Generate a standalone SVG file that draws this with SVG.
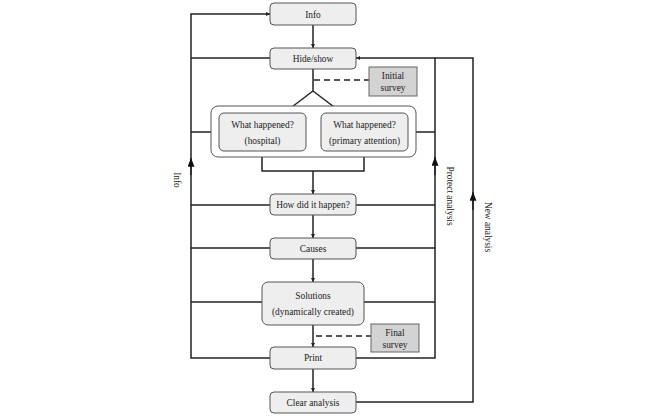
<svg xmlns="http://www.w3.org/2000/svg" width="666" height="417" viewBox="0 0 666 417">
<style>
.node{fill:#eeeeee;stroke:#555;stroke-width:1}
.survey{fill:#d3d3d3;stroke:#666;stroke-width:1}
.group{fill:#fff;stroke:#555;stroke-width:1}
text{font-family:"Liberation Serif","Times New Roman",serif;font-size:9.4px;fill:#222;text-anchor:middle}
.ln{fill:none;stroke:#222;stroke-width:1.5}
.dash{fill:none;stroke:#222;stroke-width:1.5;stroke-dasharray:6,4}
</style>
<defs>
<marker id="sm" viewBox="0 0 6 6" refX="6" refY="3" markerWidth="4" markerHeight="4" orient="auto" markerUnits="userSpaceOnUse"><path d="M0,0L6,3L0,6z" fill="#222"/></marker>
<marker id="big" viewBox="0 0 10 8" refX="10" refY="4" markerWidth="9" markerHeight="7" orient="auto" markerUnits="userSpaceOnUse"><path d="M0,0L10,4L0,8z" fill="#111"/></marker>
</defs>
<g id="connectors">
<path class="ln" d="M313,25V48" marker-end="url(#sm)"/>
<path class="ln" d="M313,69V91L284,113M313,91L342,113"/>
<path class="dash" d="M314,80H369"/>
<path class="ln" d="M262,151V171H364V151M313,171V194" marker-end="url(#sm)"/>
<path class="ln" d="M313,215V238" marker-end="url(#sm)"/>
<path class="ln" d="M313,259V282" marker-end="url(#sm)"/>
<path class="ln" d="M313,325V347" marker-end="url(#sm)"/>
<path class="dash" d="M316,336H371"/>
<path class="ln" d="M313,369V392" marker-end="url(#sm)"/>
<path class="ln" d="M270,358H191V14H270" marker-end="url(#sm)"/>
<path class="ln" d="M191,58H270M191,132H211M191,205H270M191,248H270M191,302H262"/>
<path class="ln" d="M191,175V158" marker-end="url(#big)"/>
<path class="ln" d="M356,358H435V58M356,132"/>
<path class="ln" d="M416,132H435M356,205H435M356,248H435M364,302H435"/>
<path class="ln" d="M435,175V157" marker-end="url(#big)"/>
<path class="ln" d="M356,402H473V58H356" marker-end="url(#sm)"/>
<path class="ln" d="M473,210V192" marker-end="url(#big)"/>
</g>
<g id="info"><rect class="node" x="270" y="3" width="86" height="22" rx="4"/><text x="313" y="17.5">Info</text></g>
<g id="hideshow"><rect class="node" x="270" y="48" width="86" height="21" rx="4"/><text x="313" y="61.5">Hide/show</text></g>
<g id="initial-survey"><rect class="survey" x="369" y="67" width="48" height="29"/><text x="393" y="79">Initial</text><text x="393" y="91">survey</text></g>
<g id="what-group"><rect class="group" x="211" y="106" width="205" height="51" rx="7"/></g>
<g id="what-hospital"><rect class="node" x="219" y="113" width="87" height="38" rx="5"/><text x="262.5" y="128">What happened?</text><text x="262.5" y="144">(hospital)</text></g>
<g id="what-primary"><rect class="node" x="321" y="113" width="87" height="38" rx="5"/><text x="364.5" y="128">What happened?</text><text x="364.5" y="144">(primary attention)</text></g>
<g id="how"><rect class="node" x="270" y="194" width="86" height="21" rx="4"/><text x="313" y="208">How did it happen?</text></g>
<g id="causes"><rect class="node" x="270" y="238" width="86" height="21" rx="4"/><text x="313" y="252">Causes</text></g>
<g id="solutions"><rect class="node" x="262" y="282" width="102" height="43" rx="6"/><text x="313" y="299">Solutions</text><text x="313" y="315">(dynamically created)</text></g>
<g id="final-survey"><rect class="survey" x="371" y="324" width="48" height="28"/><text x="395" y="336">Final</text><text x="395" y="348">survey</text></g>
<g id="print"><rect class="node" x="270" y="347" width="86" height="22" rx="4"/><text x="313" y="361">Print</text></g>
<g id="clear"><rect class="node" x="270" y="392" width="86" height="21" rx="4"/><text x="313" y="406">Clear analysis</text></g>
<g id="labels">
<text transform="translate(174,180) rotate(90)">Info</text>
<text transform="translate(447,196) rotate(90)">Protect analysis</text>
<text transform="translate(485,227) rotate(90)">New analysis</text>
</g>
</svg>
